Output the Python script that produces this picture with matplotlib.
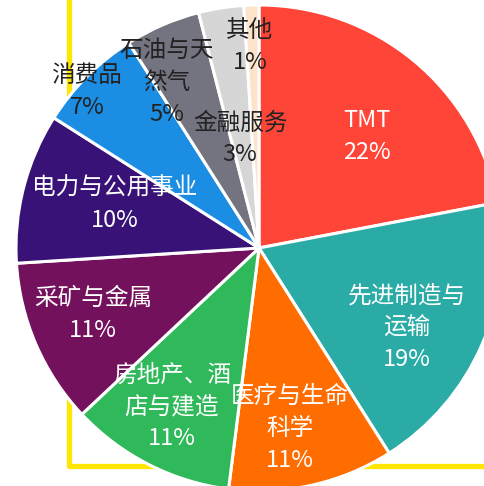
import matplotlib
matplotlib.use("Agg")
import matplotlib.pyplot as plt

plt.rcParams['font.family'] = ['Noto Sans CJK SC', 'DejaVu Sans']

# 行业分布数据
sectors = ["TMT", "先进制造与运输", "医疗与生命科学", "房地产、酒店与建造", "采矿与金属",
           "电力与公用事业", "消费品", "石油与天然气", "金融服务", "其他"]
shares = [22, 19, 11, 11, 11, 10, 7, 5, 3, 1]
wrapped = ["TMT", "先进制造与\n运输", "医疗与生命\n科学", "房地产、酒\n店与建造", "采矿与金属",
           "电力与公用事业", "消费品", "石油与天\n然气", "金融服务", "其他"]

colors = ["#FF4438", "#2AABA6", "#FF6D00", "#30B95A", "#74115C",
          "#391277", "#1B8DE2", "#747480", "#D6D6D6", "#FCE3C9"]
text_colors = ["white", "white", "white", "white", "white",
               "white", "#222222", "#222222", "#222222", "#222222"]
# 标签位置（以半径为单位）
label_xy = [(0.444, 0.457), (0.609, -0.329), (0.128, -0.741), (-0.358, -0.654),
            (-0.683, -0.272), (-0.593, 0.181), (-0.708, 0.642), (-0.379, 0.683),
            (-0.078, 0.449), (-0.037, 0.831)]

fig = plt.figure(figsize=(4.85, 4.86), dpi=100)
ax = fig.add_axes([16 / 485, -5 / 486, 486 / 485, 486 / 486])

# 黄色框线
ax.plot([69.5 / 485, 69.5 / 485, 1.0], [1.0, 1 - 466 / 486, 1 - 466 / 486],
        color="#FFE600", lw=3.8, transform=fig.transFigure, clip_on=False,
        zorder=0, solid_joinstyle='round')

ax.pie(shares, colors=colors, startangle=90, counterclock=False, radius=1,
       wedgeprops=dict(edgecolor='white', linewidth=2.2), frame=True)
ax.set_xlim(-1, 1)
ax.set_ylim(-1, 1)
ax.set_aspect('equal')
ax.axis('off')

for name, val, (x, y), tc in zip(wrapped, shares, label_xy, text_colors):
    ax.text(x, y, f"{name}\n{val}%", ha='center', va='center', color=tc,
            fontsize=17, fontweight='light', linespacing=1.5, zorder=5)

fig.savefig("out.png", dpi=100)
